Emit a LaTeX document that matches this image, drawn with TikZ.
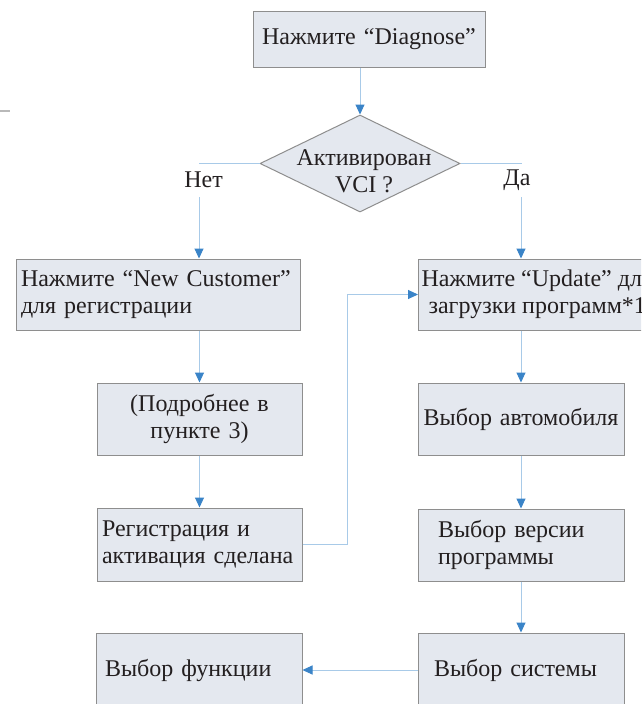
\documentclass[tikz,border=0pt]{standalone}
\usepackage{fontspec}
\setmainfont{Liberation Serif}
\usetikzlibrary{arrows.meta,shapes.geometric}
\definecolor{boxfill}{HTML}{E4E8EF}
\definecolor{boxline}{HTML}{8E8E8E}
\definecolor{connc}{HTML}{A8CAE8}
\definecolor{tipc}{HTML}{3A84C8}
\definecolor{txt}{HTML}{231F20}
\begin{document}
\begin{tikzpicture}[x=1pt,y=-1pt,
  fnt/.style={font=\rmfamily\fontsize{24}{27}\selectfont, text=txt},
  box/.style={fnt, draw=boxline, fill=boxfill, line width=1pt, inner ysep=0pt},
  lbox/.style={box, align=left},
  cbox/.style={box, align=center},
  lab/.style={fnt, inner sep=0pt, minimum height=34pt},
  plain/.style={draw=connc, line width=1pt},
  conn/.style={plain, -{Triangle[length=10pt,width=9pt,color=tipc]}}
]
\useasboundingbox (0,0) rectangle (641,704);
\fill[white] (0,0) rectangle (641,704);
\clip (0,0) rectangle (641,704);
\draw[gray!55, line width=2pt] (0,111) -- (10,111);

% boxes
\node[cbox, minimum width=232pt, minimum height=56pt, text width=222pt, inner xsep=5pt] (dg) at (369,39) {Нажмите “Diagnose”};
\node[draw=boxline, fill=boxfill, line width=1pt, shape=diamond, minimum width=200pt, minimum height=97pt, inner sep=0pt] (d) at (360,163.5) {};
\node[fnt, align=center, inner sep=0pt] (dt) at (364,171) {Активирован\\VCI ?};

\node[lab] (no) at (203.5,180) {Нет};
\node[lab] (yes) at (517,180) {Да};

\node[lbox, minimum width=284pt, minimum height=71pt, text width=274pt, inner xsep=5pt] (nc) at (158,294.5) {Нажмите “New Customer”\\для регистрации};
\node[cbox, minimum width=236pt, minimum height=71pt, inner xsep=3pt, anchor=west] (up) at (418,294.5) {Нажмите “Update” для\\загрузки программ*1};

\node[cbox, minimum width=205pt, minimum height=72pt, text width=195pt, inner xsep=5pt] (pd) at (199.5,419) {(Подробнее в\\пункте 3)};
\node[cbox, minimum width=206pt, minimum height=72pt, text width=200pt, inner xsep=3pt] (av) at (521,419) {Выбор автомобиля};

\node[lbox, minimum width=205pt, minimum height=73pt, text width=195pt, inner xsep=5pt] (rg) at (199.5,544.5) {Регистрация и\\активация сделана};
\node[lbox, minimum width=206pt, minimum height=72pt, text width=166pt, inner xsep=20pt] (vs) at (521,545) {Выбор версии\\программы};

\node[lbox, minimum width=206pt, minimum height=74pt, text width=188pt, inner xsep=9pt] (fn) at (199,670) {Выбор функции};
\node[lbox, minimum width=206pt, minimum height=74pt, text width=174pt, inner xsep=16pt] (sy) at (521,670) {Выбор системы};

% connectors
\draw[conn] (d.north |- dg.south) -- (d.north);
\draw[plain] (d.west) -| ([xshift=-4.5pt]no.north);
\draw[conn] ([xshift=-4.5pt]no.south) -- ([xshift=-4.5pt]no.south |- nc.north);
\draw[plain] (d.east) -| ([xshift=4pt]yes.north);
\draw[conn] ([xshift=4pt]yes.south) -- ([xshift=4pt]yes.south |- up.north);
\draw[conn] (pd.north |- nc.south) -- (pd.north);
\draw[conn] (pd.south) -- (rg.north);
\draw[conn] (rg.east) -- ++(45pt,0) |- (up.west);
\draw[conn] (av.north |- up.south) -- (av.north);
\draw[conn] (av.south) -- (vs.north);
\draw[conn] (vs.south) -- (sy.north);
\draw[conn] (sy.west) -- (fn.east);
\end{tikzpicture}
\end{document}
